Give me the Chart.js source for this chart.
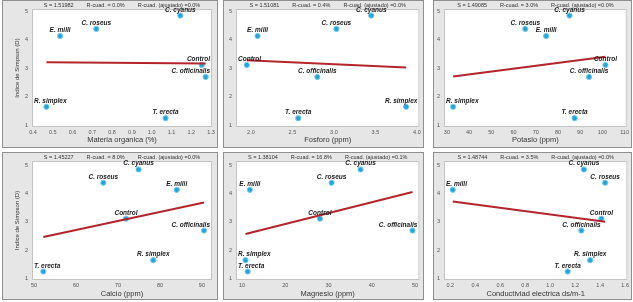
<!DOCTYPE html>
<html>
<head>
<meta charset="utf-8">
<script src="https://cdn.jsdelivr.net/npm/chart.js@4.4.1/dist/chart.umd.min.js"></script>
<style>
  html, body { margin: 0; padding: 0; background: #ffffff; }
  #wrap { position: relative; width: 633px; height: 302px; overflow: hidden; }
  .panel { position: absolute; background: #e6e6e6; box-sizing: border-box; border: 1px solid #8f8f8f; }
  .panel canvas { position: absolute; left: 0; top: 0; }
</style>
</head>
<body>
<div id="wrap"></div>
<script>
// ---------- data ----------
const species = ["C. cyanus", "C. roseus", "E. milli", "Control", "C. officinalis", "R. simplex", "T. erecta"];
const simpson = [4.85, 4.38, 4.13, 3.11, 2.69, 1.64, 1.24];

const materiaOrganica = [1.145, 0.72, 0.537, 1.253, 1.273, 0.468, 1.07];
const fosforo        = [3.45, 3.03, 2.08, 1.95, 2.80, 3.87, 2.57];
const potasio        = [85.2, 65.3, 74.7, 101.4, 94.0, 32.8, 87.5];
const calcio         = [74.9, 66.5, 84.0, 71.9, 90.5, 78.4, 52.2];
const magnesio       = [37.4, 30.7, 11.8, 28.0, 49.4, 10.8, 11.3];
const conductividad  = [1.27, 1.44, 0.22, 1.41, 1.25, 1.32, 1.14];

// fitted regression lines (end points)
const fitMateriaX = [0.468, 1.273],  fitMateriaY = [3.21, 3.16];
const fitFosforoX = [1.95, 3.87],    fitFosforoY = [3.28, 3.02];
const fitPotasioX = [32.8, 101.4],   fitPotasioY = [2.71, 3.40];
const fitCalcioX = [52.2, 90.5],     fitCalcioY = [2.46, 3.68];
const fitMagnesioX = [10.8, 49.4],   fitMagnesioY = [2.57, 4.05];
const fitConductX = [0.22, 1.44],    fitConductY = [3.72, 3.00];

const statsS    = ["S = 1.51982", "S = 1.51081", "S = 1.49085", "S = 1.45227", "S = 1.38104", "S = 1.48744"];
const statsR    = ["R-cuad. = 0.0%", "R-cuad. = 0.4%", "R-cuad. = 3.0%", "R-cuad. = 8.0%", "R-cuad. = 16.8%", "R-cuad. = 3.5%"];
const statsRadj = ["R-cuad. (ajustado) =0.0%", "R-cuad. (ajustado) =0.0%", "R-cuad. (ajustado) =0.0%", "R-cuad. (ajustado) =0.0%", "R-cuad. (ajustado) =0.1%", "R-cuad. (ajustado) =0.0%"];
const xTitles   = ["Materia organica (%)", "Fosforo (ppm)", "Potasio (ppm)", "Calcio (ppm)", "Magnesio (ppm)", "Conductiviad electrica ds/m-1"];
const yTitle    = "Indice de Simpson (D)";

// ---------- layout ----------
Chart.defaults.font.family = "'Liberation Sans', Arial, sans-serif";
Chart.defaults.color = '#444';

const colLeft = [2, 223, 433], colW = [216, 201, 199];
const rowTop = [0, 152], panelH = 148;
const plotLeft = [29, 12, 10], plotRightPad = [5, 3, 3];
const rowPlotTop = [8, 8], rowXHeight = [20, 19], rowTitlePad = [3, 1];
const rowYMin = [0.93, 0.94], rowYMax = [5.08, 5.15];

const panels = [
  { xs: materiaOrganica, fx: fitMateriaX, fy: fitMateriaY, min: 0.395, max: 1.305, step: 0.1, dec: 1 },
  { xs: fosforo, fx: fitFosforoX, fy: fitFosforoY, min: 1.82, max: 4.03, step: 0.5, dec: 1 },
  { xs: potasio, fx: fitPotasioX, fy: fitPotasioY, min: 28.7, max: 111, step: 10, dec: 0 },
  { xs: calcio, fx: fitCalcioX, fy: fitCalcioY, min: 49.5, max: 92.4, step: 10, dec: 0 },
  { xs: magnesio, fx: fitMagnesioX, fy: fitMagnesioY, min: 8.6, max: 51, step: 10, dec: 0 },
  { xs: conductividad, fx: fitConductX, fy: fitConductY, min: 0.15, max: 1.618, step: 0.2, dec: 1 }
];

const plotBg = {
  id: 'plotBg',
  beforeDraw(chart) {
    const { ctx, chartArea: a } = chart;
    ctx.save();
    ctx.fillStyle = '#ffffff';
    ctx.fillRect(a.left, a.top, a.width, a.height);
    ctx.strokeStyle = '#c4c4c4';
    ctx.lineWidth = 1;
    ctx.strokeRect(a.left + 0.5, a.top + 0.5, a.width - 1, a.height - 1);
    ctx.restore();
  }
};

const pointLabels = {
  id: 'pointLabels',
  afterDatasetsDraw(chart) {
    const { ctx, chartArea: a } = chart;
    const meta = chart.getDatasetMeta(1);
    ctx.save();
    ctx.font = "italic bold 6.5px 'Liberation Sans', Arial, sans-serif";
    ctx.fillStyle = '#1a1a1a';
    ctx.textBaseline = 'alphabetic';
    ctx.textAlign = 'left';
    meta.data.forEach((el, i) => {
      const t = species[i];
      const w = ctx.measureText(t).width;
      let x = el.x - w / 2;
      x = Math.max(a.left + 2, Math.min(a.right - 2 - w, x));
      ctx.fillText(t, x, el.y - 4);
    });
    ctx.restore();
  }
};

const statsTitle = {
  id: 'statsTitle',
  afterDraw(chart) {
    const { ctx, chartArea: a } = chart;
    const k = chart.options.plugins.statsTitle.index;
    const parts = [statsS[k], statsR[k], statsRadj[k]];
    ctx.save();
    ctx.font = "5.5px 'Liberation Sans', Arial, sans-serif";
    ctx.fillStyle = '#333';
    ctx.textBaseline = 'middle';
    const gap = 13;
    const ws = parts.map(p => ctx.measureText(p).width);
    const total = ws.reduce((s, v) => s + v, 0) + gap * 2;
    let x = (a.left + a.right) / 2 - total / 2;
    parts.forEach((p, i) => { ctx.fillText(p, x, 4.5); x += ws[i] + gap; });
    ctx.restore();
  }
};

const wrap = document.getElementById('wrap');
panels.forEach((p, k) => {
  const row = Math.floor(k / 3), col = k % 3;
  const W = colW[col], H = panelH;
  const div = document.createElement('div');
  div.className = 'panel';
  div.style.left = colLeft[col] + 'px';
  div.style.top = rowTop[row] + 'px';
  div.style.width = W + 'px';
  div.style.height = H + 'px';
  const cv = document.createElement('canvas');
  cv.width = W - 2; cv.height = H - 2;
  cv.style.width = (W - 2) + 'px'; cv.style.height = (H - 2) + 'px';
  div.appendChild(cv);
  wrap.appendChild(div);

  const pts = p.xs.map((x, i) => ({ x: x, y: simpson[i] }));
  const fit = p.fx.map((x, i) => ({ x: x, y: p.fy[i] }));

  new Chart(cv.getContext('2d'), {
    type: 'scatter',
    data: {
      datasets: [
        { type: 'line', data: fit, borderColor: '#b3252b', borderWidth: 2, pointRadius: 0, fill: false, tension: 0, order: 0 },
        { data: pts, backgroundColor: '#23a5db', borderColor: '#6fcbee', borderWidth: 1, pointRadius: 2.6, pointHoverRadius: 2.6, order: 1 }
      ]
    },
    options: {
      responsive: false,
      animation: false,
      devicePixelRatio: 1,
      events: [],
      layout: { padding: { left: 0, top: rowPlotTop[row], right: plotRightPad[col], bottom: 0 } },
      plugins: {
        legend: { display: false },
        tooltip: { enabled: false },
        title: { display: false },
        statsTitle: { index: k }
      },
      scales: {
        x: {
          type: 'linear', min: p.min, max: p.max,
          ticks: {
            stepSize: p.step, includeBounds: false, autoSkip: false, maxRotation: 0,
            font: { size: 5.5 }, color: '#555', padding: 2,
            callback: v => Number(v).toFixed(p.dec)
          },
          grid: { display: false, drawTicks: false },
          border: { display: false },
          title: { display: true, text: xTitles[k], font: { size: 7.5 }, color: '#333', padding: { top: 0, bottom: rowTitlePad[row] } },
          afterFit: s => { s.height = rowXHeight[row]; }
        },
        y: {
          type: 'linear', min: rowYMin[row], max: rowYMax[row],
          ticks: { stepSize: 1, includeBounds: false, font: { size: 5.5 }, color: '#555', padding: 4,
                   callback: v => String(v) },
          grid: { display: false, drawTicks: false },
          border: { display: false },
          title: { display: col === 0, text: yTitle, font: { size: 6 }, color: '#333', padding: { top: 11, bottom: 0 } },
          afterFit: s => { s.width = plotLeft[col]; }
        }
      }
    },
    plugins: [plotBg, pointLabels, statsTitle]
  });
});
</script>
</body>
</html>
